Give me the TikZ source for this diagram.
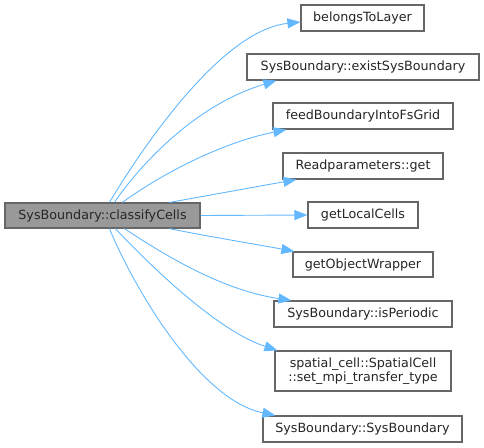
\documentclass[tikz,border=0pt]{standalone}
\usepackage{fontspec}
\setmainfont{DejaVu Sans}
\usetikzlibrary{arrows.meta}
\definecolor{edgeblue}{HTML}{63B8FF}
\definecolor{boxline}{HTML}{666666}
\definecolor{mainfill}{HTML}{999999}
\begin{document}
\begin{tikzpicture}[x=1pt,y=-1pt,
  fnbox/.style={draw=boxline, line width=1.2pt, fill=white, inner sep=0pt, align=center,
    font=\fontsize{12.7}{14.5}\selectfont, text=black!85},
  mainbox/.style={fnbox, fill=mainfill},
  call/.style={draw=edgeblue, line width=0.9pt, -{Triangle[length=13pt,width=10pt]}, fill=none},
]
\useasboundingbox (0,0) rectangle (484,447);
\node[mainbox, minimum width=195pt, minimum height=25pt] (main) at (102.5,215.5) {SysBoundary::classifyCells};
\node[fnbox, minimum width=123pt, minimum height=26pt] (bel) at (362.5,18) {belongsToLayer};
\node[fnbox, minimum width=232pt, minimum height=26pt] (exist) at (363,67) {SysBoundary::existSysBoundary};
\node[fnbox, minimum width=180pt, minimum height=26pt] (feed) at (363,116) {feedBoundaryIntoFsGrid};
\node[fnbox, minimum width=160pt, minimum height=26pt] (read) at (363,166) {Readparameters::get};
\node[fnbox, minimum width=110pt, minimum height=26pt] (loc) at (363,215) {getLocalCells};
\node[fnbox, minimum width=140pt, minimum height=25pt] (obj) at (363,264.5) {getObjectWrapper};
\node[fnbox, minimum width=178pt, minimum height=26pt] (per) at (363,314) {SysBoundary::isPeriodic};
\node[fnbox, minimum width=176pt, minimum height=40pt] (spat) at (363,371) {spatial\_cell::SpatialCell\\::set\_mpi\_transfer\_type};
\node[fnbox, minimum width=199pt, minimum height=26pt] (sys) at (362.5,429) {SysBoundary::SysBoundary};

\draw[call] ([xshift=105pt]main.north west) .. controls (150,135) and (225,30) .. ([yshift=-4pt]bel.west);
\draw[call] ([xshift=110pt]main.north west) .. controls (140,165) and (195,105) .. ([xshift=30pt]exist.south west);
\draw[call] ([xshift=118pt]main.north west) .. controls (160,175) and (220,143) .. ([xshift=14pt]feed.south west);
\draw[call] ([xshift=165pt]main.north west) .. controls (200,197) and (260,186) .. ([xshift=14pt]read.south west);
\draw[call] (main.east) -- (loc.west);
\draw[call] ([xshift=165pt]main.south west) .. controls (200,235) and (260,245) .. ([xshift=2pt]obj.north west);
\draw[call] ([xshift=120pt]main.south west) .. controls (160,252) and (220,290) .. ([xshift=18pt]per.north west);
\draw[call] ([xshift=111pt]main.south west) .. controls (145,260) and (215,330) .. ([xshift=3pt]spat.north west);
\draw[call] ([xshift=105pt]main.south west) .. controls (135,290) and (200,400) .. ([xshift=13pt]sys.north west);
\end{tikzpicture}
\end{document}
